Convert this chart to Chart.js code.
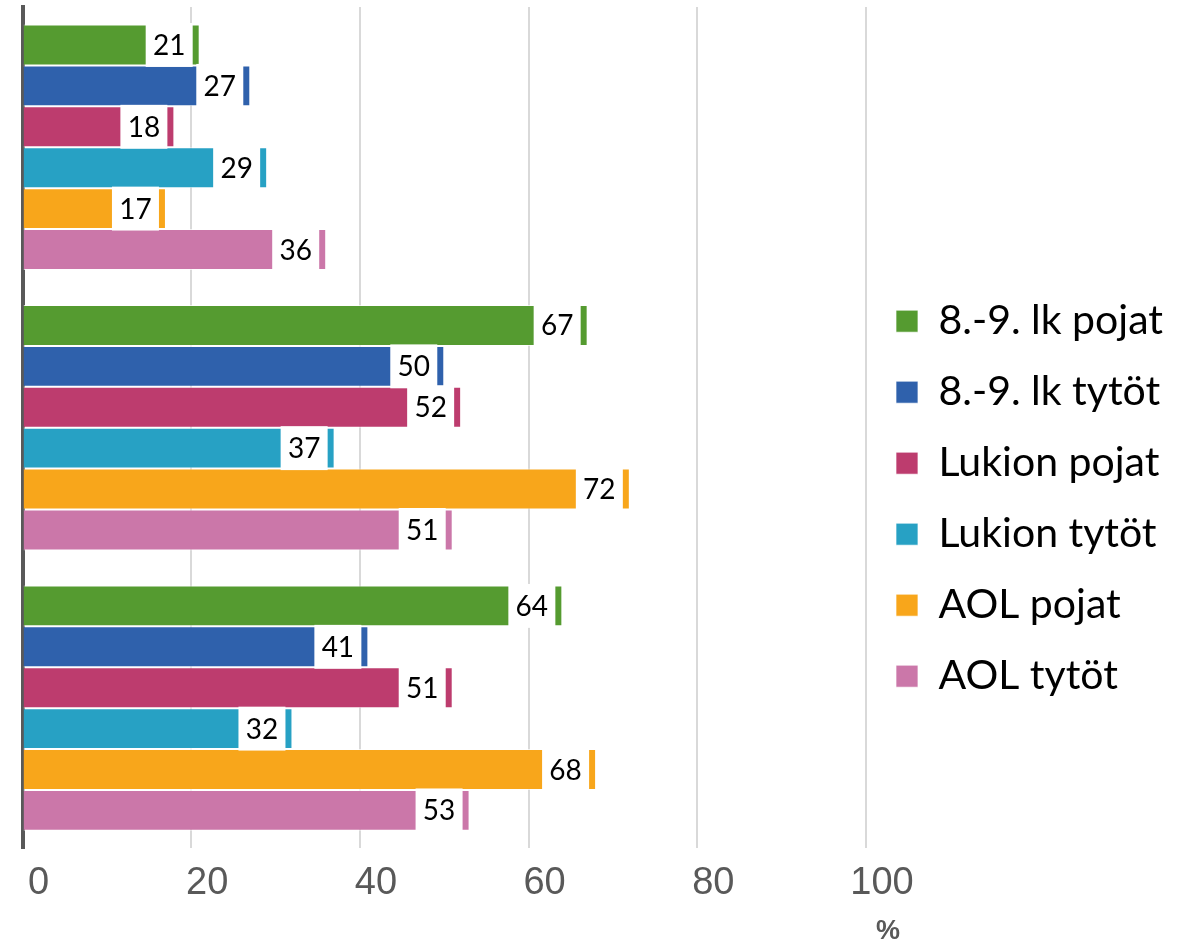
<!DOCTYPE html>
<html>
<head>
<meta charset="utf-8">
<script src="https://cdn.jsdelivr.net/npm/chart.js@4.4.0/dist/chart.umd.min.js"></script>
<style>
  html, body { margin: 0; padding: 0; background: #fff; }
  #wrap { width: 1189px; height: 947px; position: relative; }
</style>
</head>
<body>
<div id="wrap"><canvas id="chart"></canvas></div>
<script>
// categories (no labels shown in the original)
const categories = ['', '', ''];
const seriesNames = ['8.-9. lk pojat', '8.-9. lk tytöt', 'Lukion pojat', 'Lukion tytöt', 'AOL pojat', 'AOL tytöt'];
const lkPojat = [21, 67, 64];
const lkTytot = [27, 50, 41];
const lukioPojat = [18, 52, 51];
const lukioTytot = [29, 37, 32];
const aolPojat = [17, 72, 68];
const aolTytot = [36, 51, 53];
const xTicks = [0, 20, 40, 60, 80, 100];
const colors = ['#559b30', '#2f61ac', '#bd3c6e', '#27a1c4', '#f8a61b', '#cb77a9'];

const allSeries = [lkPojat, lkTytot, lukioPojat, lukioTytot, aolPojat, aolTytot];

// white value boxes near the bar end, like the Excel labels
const valueBoxes = {
    id: 'valueBoxes',
    afterDatasetsDraw(chart) {
        const ctx = chart.ctx;
        ctx.save();
        ctx.font = '28px Lato, "Open Sans", sans-serif';
        ctx.textAlign = 'center';
        ctx.textBaseline = 'middle';
        chart.data.datasets.forEach((ds, i) => {
            const meta = chart.getDatasetMeta(i);
            meta.data.forEach((bar, j) => {
                const w = 47;
                const h = bar.height + 3;
                const right = bar.x - 7;
                ctx.fillStyle = '#fff';
                ctx.fillRect(right - w, bar.y - h / 2, w, h);
                ctx.fillStyle = '#000';
                ctx.fillText(String(ds.data[j]), right - w / 2, bar.y + 1);
            });
        });
        ctx.restore();
    }
};

// "%" unit under the last tick
const unitLabel = {
    id: 'unitLabel',
    afterDraw(chart) {
        const ctx = chart.ctx;
        const xs = chart.scales.x;
        ctx.save();
        ctx.font = 'bold 27px "Liberation Sans", Arial, sans-serif';
        ctx.fillStyle = '#595959';
        ctx.textAlign = 'center';
        ctx.textBaseline = 'middle';
        ctx.fillText('%', xs.getPixelForValue(100) + 22, 932);
        ctx.restore();
    }
};

new Chart(document.getElementById('chart'), {
    type: 'bar',
    data: {
        labels: categories,
        datasets: allSeries.map((d, i) => ({
            label: seriesNames[i],
            data: d,
            backgroundColor: colors[i],
            borderColor: 'rgba(255,255,255,0.7)',
            borderWidth: 1,
            categoryPercentage: 0.875,
            barPercentage: 1
        }))
    },
    options: {
        indexAxis: 'y',
        responsive: true,
        maintainAspectRatio: false,
        animation: false,
        layout: {
            padding: { top: 7, left: 20, right: 16, bottom: 29 }
        },
        scales: {
            x: {
                min: 0,
                max: 100,
                afterBuildTicks: (axis) => { axis.ticks = xTicks.map(v => ({ value: v })); },
                grid: { color: '#d9d9d9', lineWidth: 2, drawTicks: false },
                border: { display: false },
                ticks: {
                    color: '#595959',
                    font: { family: '"Liberation Sans", Arial, sans-serif', size: 38 },
                    padding: 12,
                    labelOffset: 16,
                    maxRotation: 0
                }
            },
            y: {
                grid: { display: false, drawTicks: false },
                border: { display: true, color: '#595959', width: 4 },
                ticks: { display: false }
            }
        },
        plugins: {
            legend: {
                position: 'right',
                maxWidth: 400,
                labels: {
                    boxWidth: 22,
                    boxHeight: 22,
                    padding: 30,
                    color: '#000',
                    font: { family: 'Lato, "Open Sans", sans-serif', size: 41 }
                },
                title: { display: true, text: ' ', font: { size: 12 }, padding: { top: 58, bottom: 0 } }
            },
            tooltip: { enabled: false }
        }
    },
    plugins: [valueBoxes, unitLabel]
});
</script>
</body>
</html>
